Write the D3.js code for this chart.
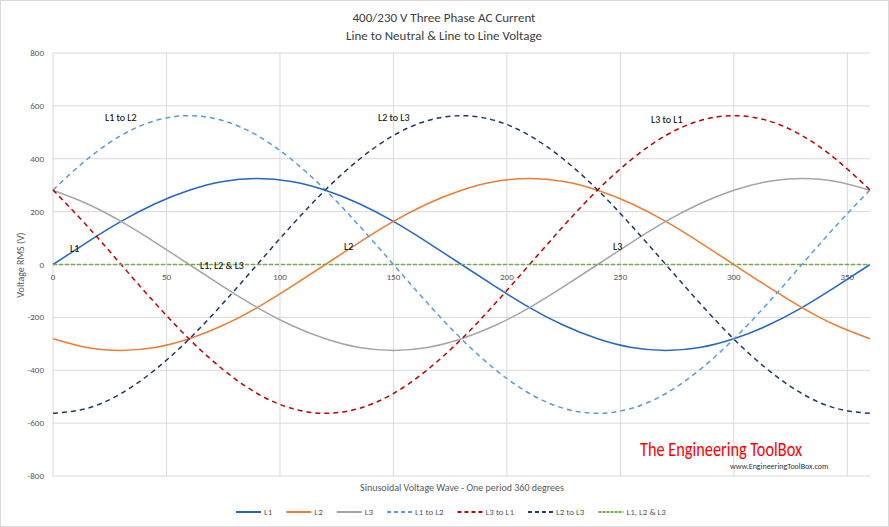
<!DOCTYPE html><html><head><meta charset="utf-8"><script src="https://cdn.jsdelivr.net/npm/d3@7"></script>
<style>body{margin:0;background:#fff}text{font-family:Calibri,Carlito,"Liberation Sans",Arial,sans-serif}</style></head><body>
<svg id="c" width="889" height="527"></svg>
<script>
const degrees=[0,15,30,45,60,75,90,105,120,135,150,165,180,195,210,225,240,255,270,285,300,315,330,345,360];
const L1=[0,84,163,230,281,314,325,314,281,230,163,84,0,-84,-163,-230,-281,-314,-325,-314,-281,-230,-163,-84,0];
const L2=[-281,-314,-325,-314,-281,-230,-163,-84,0,84,163,230,281,314,325,314,281,230,163,84,0,-84,-163,-230,-281];
const L3=[281,230,163,84,0,-84,-163,-230,-281,-314,-325,-314,-281,-230,-163,-84,0,84,163,230,281,314,325,314,281];
const L1toL2=[282,398,488,544,563,544,488,398,282,146,0,-146,-282,-398,-488,-544,-563,-544,-488,-398,-282,-146,0,146,282];
const L3toL1=[282,146,0,-146,-282,-398,-488,-544,-563,-544,-488,-398,-282,-146,0,146,282,398,488,544,563,544,488,398,282];
const L2toL3=[-563,-544,-488,-398,-282,-146,0,146,282,398,488,544,563,544,488,398,282,146,0,-146,-282,-398,-488,-544,-563];
const zero=degrees.map(()=>0);
const xTicks=[0,50,100,150,200,250,300,350];
const yTicks=[-800,-600,-400,-200,0,200,400,600,800];
const series=[
 {name:"L1",v:L1,c:"#2466c4",d:null},
 {name:"L2",v:L2,c:"#ed7d31",d:null},
 {name:"L3",v:L3,c:"#a5a5a5",d:null},
 {name:"L1 to L2",v:L1toL2,c:"#5b9bd5",d:"5,4"},
 {name:"L3 to L1",v:L3toL1,c:"#c00000",d:"5,4"},
 {name:"L2 to L3",v:L2toL3,c:"#1f3864",d:"5,4"},
 {name:"L1, L2 & L3",v:zero,c:"#70ad47",d:"4,2"}];
const svg=d3.select("#c");
svg.append("rect").attr("x",0.5).attr("y",0.5).attr("width",888).attr("height",526).attr("fill","#fff").attr("stroke","#d9d9d9");
const x=d3.scaleLinear().domain([0,360]).range([53,870]);
const y=d3.scaleLinear().domain([-800,800]).range([476,53]);
const g=svg.append("g");
g.selectAll(".vg").data(xTicks).join("line").attr("x1",d=>x(d)).attr("x2",d=>x(d)).attr("y1",53).attr("y2",476).attr("stroke","#d9d9d9");
g.selectAll(".hg").data(yTicks).join("line").attr("x1",53).attr("x2",870).attr("y1",d=>y(d)).attr("y2",d=>y(d)).attr("stroke","#d9d9d9");
g.selectAll(".yt").data(yTicks).join("text").attr("x",44).attr("y",d=>y(d)+3).attr("text-anchor","end").attr("font-size",9).attr("fill","#595959").text(d=>d);
g.selectAll(".xt").data(xTicks).join("text").attr("x",d=>x(d)).attr("y",y(0)+15).attr("text-anchor","middle").attr("font-size",9).attr("fill","#595959").text(d=>d);
const line=d3.line().x((d,i)=>x(degrees[i])).y(d=>y(d)).curve(d3.curveNatural);
series.forEach(s=>{g.append("path").attr("d",line(s.v)).attr("fill","none").attr("stroke",s.c).attr("stroke-width",1.5).attr("stroke-dasharray",s.d);});
svg.append("text").attr("x",444).attr("y",22).attr("text-anchor","middle").attr("font-size",13).attr("fill","#404040").text("400/230 V Three Phase AC  Current");
svg.append("text").attr("x",444).attr("y",40).attr("text-anchor","middle").attr("font-size",13).attr("fill","#404040").text("Line to Neutral & Line to Line Voltage");
svg.append("text").attr("transform","translate(24,265) rotate(-90)").attr("text-anchor","middle").attr("font-size",10).attr("fill","#595959").text("Voltage RMS (V)");
svg.append("text").attr("x",462).attr("y",491).attr("text-anchor","middle").attr("font-size",10).attr("fill","#595959").text("Sinusoidal Voltage Wave - One period  360 degrees");
const labels=[["L1 to L2",105,121],["L2 to L3",378,121],["L3 to L1",651,123],["L1",70,252],["L2",344,250],["L3",613,250],["L1, L2 & L3",200,269]];
labels.forEach(l=>svg.append("text").attr("x",l[1]).attr("y",l[2]).attr("font-size",10).attr("fill","#000").text(l[0]));
svg.append("text").attr("x",640).attr("y",456).attr("font-size",20).attr("fill","#ff0000").attr("textLength",162).attr("lengthAdjust","spacingAndGlyphs").attr("font-family","'Liberation Sans Narrow','DejaVu Sans Condensed',sans-serif").text("The Engineering ToolBox");
svg.append("text").attr("x",730).attr("y",469).attr("font-size",8).attr("fill","#333").text("www.EngineeringToolBox.com");
const lg=svg.append("g");
let lx=236;
series.forEach(s=>{lg.append("line").attr("x1",lx).attr("x2",lx+25).attr("y1",512).attr("y2",512).attr("stroke",s.c).attr("stroke-width",2).attr("stroke-dasharray",s.d?(s.name==="L1, L2 & L3"?"3,1":"4,3"):null);
 const t=lg.append("text").attr("x",lx+28).attr("y",515).attr("font-size",9).attr("fill","#595959").text(s.name);
 lx+=28+t.node().getComputedTextLength()+14;});
</script></body></html>
